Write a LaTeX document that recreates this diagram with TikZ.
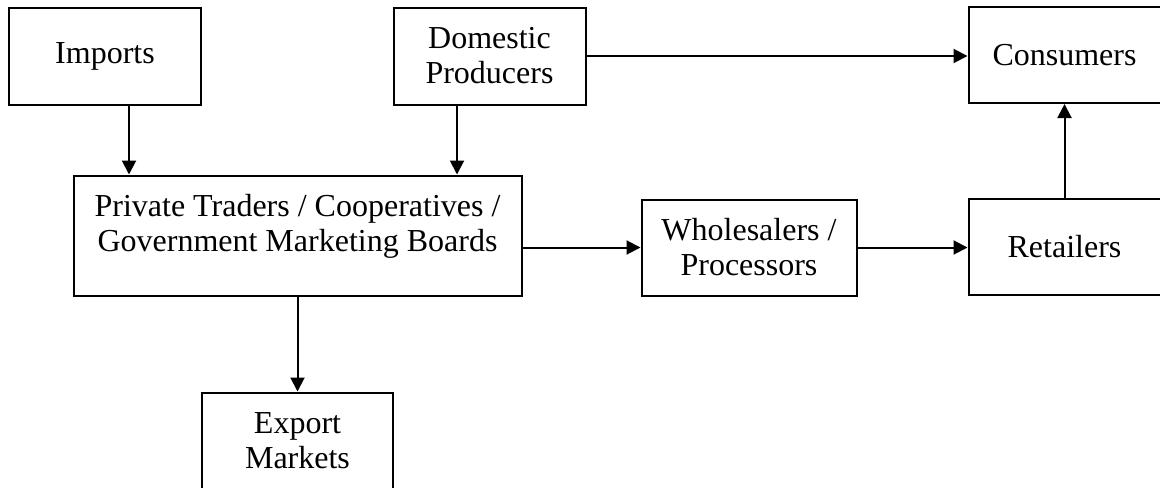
\documentclass[tikz,border=0pt]{standalone}
\usepackage{fontspec}
\setmainfont{Liberation Serif}
\usetikzlibrary{arrows.meta}
\tikzset{
	box/.style={draw, line width=1pt, align=center, inner sep=0pt, font=\fontsize{16}{17.5}\selectfont},
	flow/.style={line width=1pt, -{Triangle[length=7pt,width=7pt]}}
}
\begin{document}
\begin{tikzpicture}[x=0.5pt,y=-0.5pt]
	\clip (0,0) rectangle (1160,487);
	\node [box, minimum width=96pt, minimum height=48.5pt] (imports) at (105,56) {Imports};
	\node [box, minimum width=96pt, minimum height=48.5pt] (domestic) at (489.5,56) {Domestic\\Producers};
	\node [box, minimum width=96pt, minimum height=48pt] (consumers) at (1064.5,55) {Consumers};
	\node [box, minimum width=224pt, minimum height=60pt] (traders) at (297.5,235.5) {Private Traders / Cooperatives /\\Government Marketing Boards\rule[-12.5pt]{0pt}{12.5pt}};
	\node [box, minimum width=107.5pt, minimum height=48pt] (wholesalers) at (749,247.5) {Wholesalers /\\Processors};
	\node [box, minimum width=96pt, minimum height=48pt] (retailers) at (1064.5,247) {Retailers};
	\node [box, minimum width=95.5pt, minimum height=48.5pt] (export) at (297.5,441) {Export\\Markets};
	% supply side
	\draw [flow] (imports.south -| 129,0) -- (traders.north -| 129,0);
	\draw [flow] (domestic.south -| 457,0) -- (traders.north -| 457,0);
	\draw [flow] (domestic.east) -- (domestic.east -| consumers.west);
	% marketing chain
	\draw [flow] (traders.east |- wholesalers.west) -- (wholesalers.west);
	\draw [flow] (wholesalers.east) -- (wholesalers.east -| retailers.west);
	\draw [flow] (retailers.north) -- (consumers.south);
	\draw [flow] (traders.south) -- (export.north);
\end{tikzpicture}
\end{document}
